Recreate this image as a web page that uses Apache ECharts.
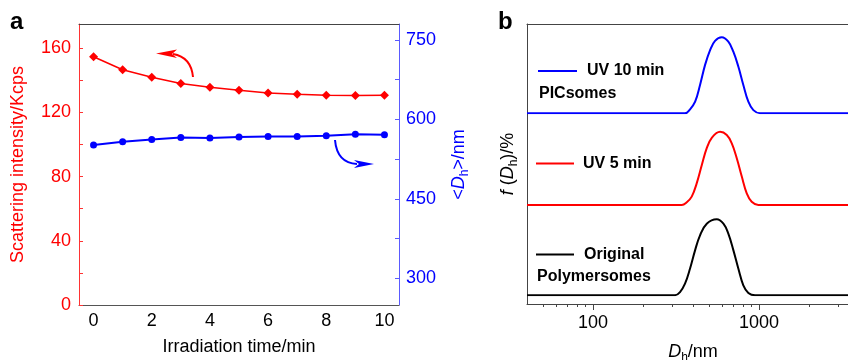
<!DOCTYPE html>
<html>
<head>
<meta charset="utf-8">
<script src="https://cdn.jsdelivr.net/npm/echarts@6.0.0/dist/echarts.min.js"></script>
<style>
  html, body { margin: 0; padding: 0; background: #fff; }
  #chart { width: 848px; height: 360px; }
</style>
</head>
<body>
<div id="chart"></div>
<script>
// ---- panel a: scattering intensity and size vs irradiation time
const times = ['0', '1', '2', '3', '4', '5', '6', '7', '8', '9', '10'];
const intensity = [154.6, 146.5, 141.8, 137.9, 135.6, 133.7, 132.1, 131.2, 130.6, 130.4, 130.6];
const diameter = [552, 558, 562, 566, 565, 567, 568, 568, 569, 572, 571];
const leftLabels = [0, 40, 80, 120, 160];
const leftTicks = [0, 20, 40, 60, 80, 100, 120, 140, 160];
const rightLabels = [300, 450, 600, 750];
const rightTicks = [300, 375, 450, 525, 600, 675, 750];

// ---- panel b: size distributions (Dh in nm, f in %)
const origSize = [40, 312, 334, 358, 384, 412, 441, 484, 556, 610, 653, 700, 750, 804, 862, 946, 4000];
const origF = [0, 0, 0.8, 2.9, 6.7, 11.3, 15.0, 17.9, 19.0, 17.9, 15.4, 11.3, 6.7, 2.5, 0.6, 0, 0];
const uv5Size = [40, 342, 367, 393, 421, 452, 484, 519, 582, 639, 685, 734, 787, 843, 903, 990, 4000];
const uv5F = [0, 0, 0.7, 2.1, 5.4, 10.0, 14.2, 16.8, 18.3, 17.5, 15.4, 11.7, 7.1, 2.9, 0.8, 0, 0];
const uv10Size = [40, 358, 384, 412, 441, 473, 507, 543, 596, 653, 700, 750, 804, 862, 924, 1014, 4000];
const uv10F = [0, 0, 1.0, 2.9, 7.1, 12.1, 15.8, 18.1, 19.0, 17.9, 15.4, 11.7, 7.1, 2.9, 0.8, 0, 0];
const sizeLabels = [100, 1000];
const sizeMinor = [50, 60, 70, 80, 90, 200, 300, 400, 500, 600, 700, 800, 900, 2000, 3000];

const FONT = '"Liberation Sans", Arial, Helvetica, sans-serif';
const RED = '#ff0000';
const BLUE = '#0000ff';

const pairs = (xs, ys) => xs.map((x, i) => [x, ys[i]]);

const subRich = {
  i: { fontStyle: 'italic', fontSize: 18, lineHeight: 24, fontFamily: FONT },
  s: { fontSize: 12, lineHeight: 12, verticalAlign: 'bottom', fontFamily: FONT }
};

// the three stacked curve grids of panel b share x placement
const bLeft = 527, bWidth = 332;
const curveGrid = (top) => ({ left: bLeft, width: bWidth, top: top, height: 100, outerBoundsMode: 'none' });
const hiddenLog = (gi) => ({ type: 'log', logBase: 10, gridIndex: gi, min: 40, max: 4000, show: false });
const hiddenY = (gi) => ({ type: 'value', gridIndex: gi, min: 0, max: 25, show: false });
// plain frame line on top of a panel
const topLine = (gi) => ({
  type: 'value', gridIndex: gi, position: 'top', min: 0, max: 1,
  axisLine: { show: true, lineStyle: { color: '#444', width: 1 } },
  axisTick: { show: false }, axisLabel: { show: false }, splitLine: { show: false }
});

const chart = echarts.init(document.getElementById('chart'));

const option = {
  animation: false,
  textStyle: { fontFamily: FONT },
  grid: [
    { left: 79, top: 24, width: 320, height: 281, outerBoundsMode: 'none' },
    { left: bLeft, top: 24, width: bWidth, height: 280, outerBoundsMode: 'none' },
    curveGrid(13.3),
    curveGrid(105),
    curveGrid(195.3)
  ],
  xAxis: [
    {
      type: 'category', gridIndex: 0, data: times, boundaryGap: true,
      name: 'Irradiation time/min', nameLocation: 'middle', nameGap: 33,
      nameTextStyle: { fontSize: 18, color: '#000' },
      axisLine: { lineStyle: { color: '#555', width: 1 } },
      axisTick: { inside: true, length: 4, interval: 0, alignWithLabel: true, lineStyle: { color: '#555' } },
      axisLabel: { interval: 1, fontSize: 18, color: '#000', margin: 7 }
    },
    {
      type: 'value', gridIndex: 1, position: 'bottom', min: Math.log10(40), max: Math.log10(4000),
      name: '{i|D}{s|h}/nm', nameLocation: 'middle', nameGap: 36,
      nameTextStyle: { fontSize: 18, lineHeight: 24, color: '#000', rich: subRich },
      splitLine: { show: false },
      axisLine: { lineStyle: { color: '#444', width: 1 } },
      axisTick: { inside: false, length: 6, customValues: sizeLabels.map(Math.log10), lineStyle: { color: '#444' } },
      axisLabel: {
        customValues: sizeLabels.map(Math.log10), fontSize: 18, color: '#000', margin: 10,
        formatter: v => String(Math.round(Math.pow(10, v)))
      }
    },
    {
      type: 'value', gridIndex: 1, position: 'bottom', offset: 0, min: Math.log10(40), max: Math.log10(4000),
      splitLine: { show: false },
      axisLine: { show: false },
      axisTick: { inside: false, length: 3, customValues: sizeMinor.map(Math.log10), lineStyle: { color: '#444' } },
      axisLabel: { show: false }
    },
    hiddenLog(2), hiddenLog(3), hiddenLog(4),
    topLine(0), topLine(1)
  ],
  yAxis: [
    {
      type: 'value', gridIndex: 0, min: 0, max: 175, interval: 40, position: 'left',
      name: 'Scattering intensity/Kcps', nameLocation: 'middle', nameGap: 52,
      nameTextStyle: { fontSize: 18, color: RED },
      splitLine: { show: false },
      axisLine: { show: true, lineStyle: { color: '#ff3333', width: 1 } },
      axisTick: { show: true, inside: true, length: 4, customValues: leftTicks, lineStyle: { color: '#ff3333' } },
      axisLabel: { customValues: leftLabels, fontSize: 18, color: RED, margin: 8 }
    },
    {
      type: 'value', gridIndex: 0, min: 250, max: 780, position: 'right',
      name: '{t|<}{i|D}{s|h}{t|>/nm}', nameLocation: 'middle', nameGap: 48, nameRotate: 90,
      nameTextStyle: {
        fontSize: 18, lineHeight: 24, color: BLUE,
        rich: {
          t: { fontSize: 18, lineHeight: 24, color: BLUE, fontFamily: FONT },
          i: { fontStyle: 'italic', fontSize: 18, lineHeight: 24, color: BLUE, fontFamily: FONT },
          s: { fontSize: 12, lineHeight: 12, verticalAlign: 'bottom', color: BLUE, fontFamily: FONT }
        }
      },
      splitLine: { show: false },
      axisLine: { show: true, lineStyle: { color: '#5a5aff', width: 1 } },
      axisTick: { show: true, inside: true, length: 4, customValues: rightTicks, lineStyle: { color: '#5a5aff' } },
      axisLabel: { customValues: rightLabels, fontSize: 18, color: BLUE, margin: 7 }
    },
    {
      type: 'value', gridIndex: 1, min: 0, max: 1,
      name: '{i|f} ({i|D}{s|h})/%', nameLocation: 'middle', nameGap: 7,
      nameTextStyle: { fontSize: 18, lineHeight: 24, color: '#000', rich: subRich },
      splitLine: { show: false },
      axisLine: { show: true, lineStyle: { color: '#444', width: 1 } },
      axisTick: { show: false },
      axisLabel: { show: false }
    },
    hiddenY(2), hiddenY(3), hiddenY(4)
  ],
  series: [
    {
      name: 'Scattering intensity', type: 'line', xAxisIndex: 0, yAxisIndex: 0,
      data: intensity, symbol: 'diamond', symbolSize: 9,
      lineStyle: { color: RED, width: 1.5 }, itemStyle: { color: RED }
    },
    {
      name: '<Dh>', type: 'line', xAxisIndex: 0, yAxisIndex: 1,
      data: diameter, symbol: 'circle', symbolSize: 7,
      lineStyle: { color: BLUE, width: 2 }, itemStyle: { color: BLUE }
    },
    {
      name: 'UV 10 min', type: 'line', xAxisIndex: 3, yAxisIndex: 3,
      data: pairs(uv10Size, uv10F), smooth: 0.4, symbol: 'none',
      lineStyle: { color: BLUE, width: 2 }
    },
    {
      name: 'UV 5 min', type: 'line', xAxisIndex: 4, yAxisIndex: 4,
      data: pairs(uv5Size, uv5F), smooth: 0.4, symbol: 'none',
      lineStyle: { color: RED, width: 2 }
    },
    {
      name: 'Original Polymersomes', type: 'line', xAxisIndex: 5, yAxisIndex: 5,
      data: pairs(origSize, origF), smooth: 0.4, symbol: 'none',
      lineStyle: { color: '#000', width: 2 }
    }
  ],
  graphic: [
    // panel letters
    { type: 'text', x: 10, y: 22, style: { text: 'a', fontSize: 24, fontWeight: 'bold', fontFamily: FONT, fill: '#000', verticalAlign: 'middle' } },
    { type: 'text', x: 498, y: 22, style: { text: 'b', fontSize: 24, fontWeight: 'bold', fontFamily: FONT, fill: '#000', verticalAlign: 'middle' } },
    // arrows pointing to the matching axes
    { type: 'bezierCurve', shape: { x1: 193, y1: 77, cpx1: 191, cpy1: 57, x2: 173, y2: 54 }, style: { stroke: RED, lineWidth: 2, fill: null } },
    { type: 'polygon', shape: { points: [[156, 53.5], [177, 49.5], [172, 54], [177, 58]] }, style: { fill: RED } },
    { type: 'bezierCurve', shape: { x1: 335, y1: 140, cpx1: 337, cpy1: 163, x2: 357, y2: 164 }, style: { stroke: BLUE, lineWidth: 2, fill: null } },
    { type: 'polygon', shape: { points: [[374, 164], [354, 160], [359, 164], [354, 168]] }, style: { fill: BLUE } },
    // panel b legend
    { type: 'line', shape: { x1: 538, y1: 71, x2: 577, y2: 71 }, style: { stroke: BLUE, lineWidth: 2 } },
    { type: 'text', x: 587, y: 71, style: { text: 'UV 10 min', fontSize: 16, fontWeight: 'bold', fontFamily: FONT, fill: '#000', verticalAlign: 'middle' } },
    { type: 'text', x: 539, y: 94, style: { text: 'PICsomes', fontSize: 16, fontWeight: 'bold', fontFamily: FONT, fill: '#000', verticalAlign: 'middle' } },
    { type: 'line', shape: { x1: 536, y1: 163.5, x2: 574, y2: 163.5 }, style: { stroke: RED, lineWidth: 2 } },
    { type: 'text', x: 583, y: 163.5, style: { text: 'UV 5 min', fontSize: 16, fontWeight: 'bold', fontFamily: FONT, fill: '#000', verticalAlign: 'middle' } },
    { type: 'line', shape: { x1: 536, y1: 254.5, x2: 574, y2: 254.5 }, style: { stroke: '#000', lineWidth: 2 } },
    { type: 'text', x: 584, y: 254.5, style: { text: 'Original', fontSize: 16, fontWeight: 'bold', fontFamily: FONT, fill: '#000', verticalAlign: 'middle' } },
    { type: 'text', x: 537, y: 277, style: { text: 'Polymersomes', fontSize: 16, fontWeight: 'bold', fontFamily: FONT, fill: '#000', verticalAlign: 'middle' } }
  ]
};

chart.setOption(option);
</script>
</body>
</html>
